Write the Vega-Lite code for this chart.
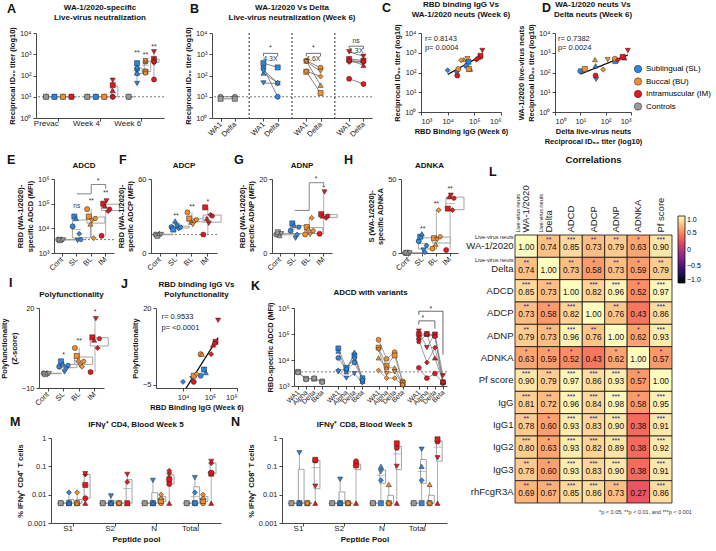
{
"$schema":"https://vega.github.io/schema/vega-lite/v6.json",
"background":"white",
"padding":{"left":0,"top":0,"right":0,"bottom":0},
"config":{"font":"Liberation Sans","view":{"stroke":null},
"axis":{"grid":false,"labelFontSize":7.5,"titleFontSize":7.5,"titleFontWeight":"bold","domainColor":"#333","tickColor":"#333","labelColor":"#222","titleColor":"#111","tickSize":3,"labelPadding":2,"titlePadding":3,"domainWidth":0.9,"tickWidth":0.9},
"title":{"fontSize":8,"fontWeight":"bold","color":"#111","offset":5,"lineHeight":10}},
"resolve":{"scale":{"color":"independent","xOffset":"independent"}},
"spacing":8,
"vconcat":[
{"bounds":"flush","spacing":0,"resolve":{"scale":{"xOffset":"independent"}},"hconcat":[
 {"width":32,"height":1,"title":{"text":"A","anchor":"start","frame":"group","fontSize":12.5,"fontWeight":"bold","offset":18,"dx":3},"data":{"values":[]},"mark":{"type":"point","opacity":0},"encoding":{}},
 {"width":128,"height":85,"title":{"text":["WA-1/2020-specific","Live-virus neutralization"]},
  "data":{"values":[
   {"t":"Prevac","g":"Cont","a":"a1","v":10},{"t":"Prevac","g":"Cont","a":"a2","v":10},{"t":"Prevac","g":"SL","a":"a1","v":10},{"t":"Prevac","g":"SL","a":"a2","v":10},{"t":"Prevac","g":"BL","a":"a1","v":10},{"t":"Prevac","g":"BL","a":"a2","v":10},{"t":"Prevac","g":"IM","a":"a1","v":10},{"t":"Prevac","g":"IM","a":"a2","v":10},
   {"t":"Week 4","g":"Cont","a":"a1","v":10},{"t":"Week 4","g":"Cont","a":"a2","v":10},{"t":"Week 4","g":"SL","a":"a1","v":10},{"t":"Week 4","g":"SL","a":"a2","v":10},{"t":"Week 4","g":"BL","a":"a1","v":10},{"t":"Week 4","g":"BL","a":"a2","v":10},
   {"t":"Week 4","g":"IM","a":"a1","v":10},{"t":"Week 4","g":"IM","a":"a2","v":35},{"t":"Week 4","g":"IM","a":"a3","v":20},{"t":"Week 4","g":"IM","a":"a4","v":60},{"t":"Week 4","g":"IM","a":"a5","v":10},{"t":"Week 4","g":"IM","a":"a6","v":10},
   {"t":"Week 6","g":"Cont","a":"a1","v":10},{"t":"Week 6","g":"Cont","a":"a2","v":10},
   {"t":"Week 6","g":"SL","a":"a1","v":200},{"t":"Week 6","g":"SL","a":"a2","v":380},{"t":"Week 6","g":"SL","a":"a3","v":130},{"t":"Week 6","g":"SL","a":"a4","v":42},{"t":"Week 6","g":"SL","a":"a5","v":120},{"t":"Week 6","g":"SL","a":"a6","v":230},
   {"t":"Week 6","g":"BL","a":"a1","v":450},{"t":"Week 6","g":"BL","a":"a2","v":150},{"t":"Week 6","g":"BL","a":"a3","v":480},{"t":"Week 6","g":"BL","a":"a4","v":500},{"t":"Week 6","g":"BL","a":"a5","v":160},{"t":"Week 6","g":"BL","a":"a6","v":130},
   {"t":"Week 6","g":"IM","a":"a1","v":65},{"t":"Week 6","g":"IM","a":"a2","v":600},{"t":"Week 6","g":"IM","a":"a3","v":550},{"t":"Week 6","g":"IM","a":"a4","v":1300},{"t":"Week 6","g":"IM","a":"a5","v":400},{"t":"Week 6","g":"IM","a":"a6","v":450}]},
  "layer":[
   {"data":{"values":[{"ref":10}]},"mark":{"type":"rule","strokeDash":[2,2],"color":"#444","strokeWidth":0.7},"encoding":{"y":{"field":"ref","type":"quantitative"}}},
   {"transform":[{"aggregate":[{"op":"q1","field":"v","as":"q1"},{"op":"q3","field":"v","as":"q3"},{"op":"median","field":"v","as":"md"},{"op":"min","field":"v","as":"lo"},{"op":"max","field":"v","as":"hi"}],"groupby":["t","g"]}],
    "encoding":{"x":{"field":"t","type":"nominal"},"xOffset":{"field":"g","type":"nominal"}},
    "layer":[
     {"mark":{"type":"rule","color":"#999","strokeWidth":0.8},"encoding":{"y":{"field":"lo","type":"quantitative"},"y2":{"field":"hi"}}},
     {"mark":{"type":"bar","fill":"white","stroke":"#999","strokeWidth":0.9,"width":{"band":0.85}},"encoding":{"y":{"field":"q1","type":"quantitative"},"y2":{"field":"q3"}}},
     {"mark":{"type":"tick","color":"#999","thickness":0.9,"size":7},"encoding":{"y":{"field":"md","type":"quantitative"}}}]},
   {"mark":{"type":"point","filled":true,"size":26,"stroke":"#222","strokeWidth":0.5,"opacity":1},
    "encoding":{"x":{"field":"t","type":"nominal","scale":{"domain":["Prevac","Week 4","Week 6"],"paddingInner":0.2,"paddingOuter":0.15},"axis":{"title":null,"labelAngle":0,"labelFontSize":8}},
     "xOffset":{"field":"g","type":"nominal","scale":{"domain":["Cont","SL","BL","IM"],"paddingInner":0.1}},
     "y":{"field":"v","type":"quantitative","scale":{"type":"log","domain":[1,10000]},"axis":{"values":[1,10,100,1000,10000],"labelExpr":"'10' + ['⁰','¹','²','³','⁴','⁵','⁶'][round(log(datum.value)/LN10)]","title":"Reciprocal ID₅₀ titer (log10)"}},
     "color":{"field":"g","type":"nominal","scale":{"domain":["SL","BL","IM","Cont"],"range":["#2C86E3","#F28E2B","#E8151B","#9A9A9A"]},"legend":{"orient":"none","legendX":630,"legendY":32,"title":null,"symbolType":"circle","symbolSize":55,"symbolStrokeColor":"#222","symbolStrokeWidth":0.5,"labelFontSize":8,"rowPadding":2.5,"labelExpr":"datum.label=='SL'?'Sublingual (SL)':datum.label=='BL'?'Buccal (BU)':datum.label=='IM'?'Intramuscular (IM)':'Controls'"}},
     "shape":{"field":"a","type":"nominal","scale":{"domain":["a1","a2","a3","a4","a5","a6"],"range":["circle","square","triangle-up","triangle-down","diamond","M-0.9,0L-0.45,-0.8L0.45,-0.8L0.9,0L0.45,0.8L-0.45,0.8Z"]},"legend":null}}},
   {"data":{"values":[{"t":"Week 6","g":"SL","s":"**","y":1200},{"t":"Week 6","g":"BL","s":"**","y":950},{"t":"Week 6","g":"IM","s":"**","y":2300}]},"mark":{"type":"text","fontSize":7,"color":"#333"},"encoding":{"x":{"field":"t","type":"nominal"},"xOffset":{"field":"g","type":"nominal"},"y":{"field":"y","type":"quantitative"},"text":{"field":"s"}}}
  ]},
 {"width":48,"height":1,"title":{"text":"B","anchor":"start","frame":"group","fontSize":12.5,"fontWeight":"bold","offset":18,"dx":26},"data":{"values":[]},"mark":{"type":"point","opacity":0},"encoding":{}},
 {"width":160,"height":85,"title":{"text":["WA-1/2020 Vs Delta","Live-virus neutralization (Week 6)"]},
  "data":{"values":[
   {"k":"Cont|WA1","g":"Cont","a":"a1","v":10},{"k":"Cont|Delta","g":"Cont","a":"a1","v":10},{"k":"Cont|WA1","g":"Cont","a":"a2","v":8},{"k":"Cont|Delta","g":"Cont","a":"a2","v":8},
   {"k":"SL|WA1","g":"SL","a":"a1","v":230},{"k":"SL|Delta","g":"SL","a":"a1","v":10},{"k":"SL|WA1","g":"SL","a":"a2","v":380},{"k":"SL|Delta","g":"SL","a":"a2","v":240},{"k":"SL|WA1","g":"SL","a":"a3","v":130},{"k":"SL|Delta","g":"SL","a":"a3","v":45},{"k":"SL|WA1","g":"SL","a":"a4","v":45},{"k":"SL|Delta","g":"SL","a":"a4","v":42},{"k":"SL|WA1","g":"SL","a":"a5","v":180},{"k":"SL|Delta","g":"SL","a":"a5","v":45},
   {"k":"BL|WA1","g":"BL","a":"a1","v":500},{"k":"BL|Delta","g":"BL","a":"a1","v":230},{"k":"BL|WA1","g":"BL","a":"a2","v":150},{"k":"BL|Delta","g":"BL","a":"a2","v":15},{"k":"BL|WA1","g":"BL","a":"a3","v":480},{"k":"BL|Delta","g":"BL","a":"a3","v":35},{"k":"BL|WA1","g":"BL","a":"a4","v":450},{"k":"BL|Delta","g":"BL","a":"a4","v":160},{"k":"BL|WA1","g":"BL","a":"a5","v":160},{"k":"BL|Delta","g":"BL","a":"a5","v":90},
   {"k":"IM|WA1","g":"IM","a":"a1","v":70},{"k":"IM|Delta","g":"IM","a":"a1","v":40},{"k":"IM|WA1","g":"IM","a":"a2","v":600},{"k":"IM|Delta","g":"IM","a":"a2","v":500},{"k":"IM|WA1","g":"IM","a":"a3","v":550},{"k":"IM|Delta","g":"IM","a":"a3","v":300},{"k":"IM|WA1","g":"IM","a":"a4","v":1300},{"k":"IM|Delta","g":"IM","a":"a4","v":800},{"k":"IM|WA1","g":"IM","a":"a5","v":430},{"k":"IM|Delta","g":"IM","a":"a5","v":430},{"k":"IM|WA1","g":"IM","a":"a6","v":500},{"k":"IM|Delta","g":"IM","a":"a6","v":450}]},
  "layer":[
   {"data":{"values":[{"ref":10}]},"mark":{"type":"rule","strokeDash":[2,2],"color":"#444","strokeWidth":0.7},"encoding":{"y":{"field":"ref","type":"quantitative"}}},
   {"data":{"values":[{"k":"s1"},{"k":"s2"},{"k":"s3"}]},"mark":{"type":"rule","strokeDash":[2,2],"color":"#111","strokeWidth":0.9},"encoding":{"x":{"field":"k","type":"nominal"}}},
   {"mark":{"type":"line","color":"#666","strokeWidth":0.8},"encoding":{"x":{"field":"k","type":"nominal"},"y":{"field":"v","type":"quantitative"},"detail":[{"field":"g"},{"field":"a"}]}},
   {"mark":{"type":"point","filled":true,"size":26,"stroke":"#222","strokeWidth":0.5,"opacity":1},
    "encoding":{"x":{"field":"k","type":"nominal","scale":{"type":"point","domain":["Cont|WA1","Cont|Delta","s1","SL|WA1","SL|Delta","s2","BL|WA1","BL|Delta","s3","IM|WA1","IM|Delta"],"padding":0.6},"axis":{"values":["Cont|WA1","Cont|Delta","SL|WA1","SL|Delta","BL|WA1","BL|Delta","IM|WA1","IM|Delta"],"labelExpr":"split(datum.value,'|')[1]","labelAngle":-45,"title":null}},
     "y":{"field":"v","type":"quantitative","scale":{"type":"log","domain":[1,10000]},"axis":{"values":[1,10,100,1000,10000],"labelExpr":"'10' + ['⁰','¹','²','³','⁴','⁵','⁶'][round(log(datum.value)/LN10)]","title":"Reciprocal ID₅₀ titer (log10)"}},
     "color":{"field":"g","type":"nominal","scale":{"domain":["SL","BL","IM","Cont"],"range":["#2C86E3","#F28E2B","#E8151B","#9A9A9A"]},"legend":{"orient":"none","legendX":630,"legendY":32,"title":null,"symbolType":"circle","symbolSize":55,"symbolStrokeColor":"#222","symbolStrokeWidth":0.5,"labelFontSize":8,"rowPadding":2.5,"labelExpr":"datum.label=='SL'?'Sublingual (SL)':datum.label=='BL'?'Buccal (BU)':datum.label=='IM'?'Intramuscular (IM)':'Controls'"}},
     "shape":{"field":"a","type":"nominal","scale":{"domain":["a1","a2","a3","a4","a5","a6"],"range":["circle","square","triangle-up","triangle-down","diamond","M-0.9,0L-0.45,-0.8L0.45,-0.8L0.9,0L0.45,0.8L-0.45,0.8Z"]},"legend":null}}},
   {"data":{"values":[{"x1":"SL|WA1","x2":"SL|Delta","y":1100},{"x1":"BL|WA1","x2":"BL|Delta","y":1100},{"x1":"IM|WA1","x2":"IM|Delta","y":2400}]},"mark":{"type":"rule","color":"#333","strokeWidth":0.7},"encoding":{"x":{"field":"x1","type":"nominal"},"x2":{"field":"x2"},"y":{"field":"y","type":"quantitative"}}},
   {"data":{"values":[{"x":"SL|WA1","y1":1100,"y2":800},{"x":"SL|Delta","y1":1100,"y2":800},{"x":"BL|WA1","y1":1100,"y2":800},{"x":"BL|Delta","y1":1100,"y2":800},{"x":"IM|WA1","y1":2400,"y2":1800},{"x":"IM|Delta","y1":2400,"y2":1800}]},"mark":{"type":"rule","color":"#333","strokeWidth":0.7},"encoding":{"x":{"field":"x","type":"nominal"},"y":{"field":"y1","type":"quantitative"},"y2":{"field":"y2"}}},
   {"data":{"values":[{"x":"SL|WA1","y":1900,"s":"*"},{"x":"SL|WA1","y":600,"s":"4.3X"},{"x":"BL|WA1","y":1900,"s":"*"},{"x":"BL|WA1","y":600,"s":"4.6X"},{"x":"IM|WA1","y":4000,"s":"ns"},{"x":"IM|WA1","y":1350,"s":"1.3X"}]},"mark":{"type":"text","fontSize":7,"color":"#333","dx":7},"encoding":{"x":{"field":"x","type":"nominal"},"y":{"field":"y","type":"quantitative"},"text":{"field":"s"}}}
  ]},
 {"width":49,"height":1,"title":{"text":"C","anchor":"start","frame":"group","fontSize":12.5,"fontWeight":"bold","offset":19,"dx":10},"data":{"values":[]},"mark":{"type":"point","opacity":0},"encoding":{}},
 {"width":80,"height":79,"title":{"text":["RBD binding IgG Vs","WA-1/2020 neuts (Week 6)"]},
  "data":{"values":[
   {"g":"SL","a":"a5","x":10000,"y":130},{"g":"SL","a":"a4","x":22000,"y":90},{"g":"SL","a":"a2","x":60000,"y":350},{"g":"SL","a":"a3","x":70000,"y":150},{"g":"SL","a":"a1","x":50000,"y":220},
   {"g":"BL","a":"a1","x":25000,"y":150},{"g":"BL","a":"a2","x":62000,"y":150},{"g":"BL","a":"a3","x":40000,"y":450},{"g":"BL","a":"a4","x":55000,"y":500},{"g":"BL","a":"a5","x":32000,"y":420},
   {"g":"IM","a":"a1","x":23000,"y":70},{"g":"IM","a":"a2","x":170000,"y":700},{"g":"IM","a":"a3","x":150000,"y":600},{"g":"IM","a":"a4","x":200000,"y":1300},{"g":"IM","a":"a5","x":120000,"y":450},{"g":"IM","a":"a6","x":130000,"y":500}]},
  "layer":[
   {"transform":[{"regression":"y","on":"x","method":"pow"}],"mark":{"type":"line","color":"#111","strokeWidth":1.3},"encoding":{"x":{"field":"x","type":"quantitative"},"y":{"field":"y","type":"quantitative"}}},
   {"mark":{"type":"point","filled":true,"size":26,"stroke":"#222","strokeWidth":0.5,"opacity":1},
    "encoding":{"x":{"field":"x","type":"quantitative","scale":{"type":"log","domain":[1000,1000000]},"axis":{"values":[1000,10000,100000,1000000],"labelExpr":"'10' + ['⁰','¹','²','³','⁴','⁵','⁶'][round(log(datum.value)/LN10)]","title":"RBD Binding IgG (Week 6)"}},
     "y":{"field":"y","type":"quantitative","scale":{"type":"log","domain":[1,10000]},"axis":{"values":[1,10,100,1000,10000],"labelExpr":"'10' + ['⁰','¹','²','³','⁴','⁵','⁶'][round(log(datum.value)/LN10)]","title":"Reciprocal ID₅₀ titer (log10)"}},
     "color":{"field":"g","type":"nominal","scale":{"domain":["SL","BL","IM","Cont"],"range":["#2C86E3","#F28E2B","#E8151B","#9A9A9A"]},"legend":{"orient":"none","legendX":630,"legendY":32,"title":null,"symbolType":"circle","symbolSize":55,"symbolStrokeColor":"#222","symbolStrokeWidth":0.5,"labelFontSize":8,"rowPadding":2.5,"labelExpr":"datum.label=='SL'?'Sublingual (SL)':datum.label=='BL'?'Buccal (BU)':datum.label=='IM'?'Intramuscular (IM)':'Controls'"}},
     "shape":{"field":"a","type":"nominal","scale":{"domain":["a1","a2","a3","a4","a5","a6"],"range":["circle","square","triangle-up","triangle-down","diamond","M-0.9,0L-0.45,-0.8L0.45,-0.8L0.9,0L0.45,0.8L-0.45,0.8Z"]},"legend":null}}},
   {"data":{"values":[{"x":1400,"y":5000,"s":"r=  0.8143"},{"x":1400,"y":1800,"s":"p= 0.0004"}]},"mark":{"type":"text","align":"left","fontSize":7.5,"color":"#222"},"encoding":{"x":{"field":"x","type":"quantitative"},"y":{"field":"y","type":"quantitative"},"text":{"field":"s"}}}
  ]},
 {"width":54,"height":1,"title":{"text":"D","anchor":"start","frame":"group","fontSize":12.5,"fontWeight":"bold","offset":19,"dx":41},"data":{"values":[]},"mark":{"type":"point","opacity":0},"encoding":{}},
 {"width":76,"height":79,"title":{"text":["WA-1/2020 neuts Vs","Delta neuts (Week 6)"]},
  "data":{"values":[
   {"g":"SL","a":"a1","x":10,"y":120},{"g":"SL","a":"a2","x":240,"y":380},{"g":"SL","a":"a3","x":40,"y":220},{"g":"SL","a":"a4","x":42,"y":45},
   {"g":"BL","a":"a2","x":15,"y":150},{"g":"BL","a":"a3","x":38,"y":450},{"g":"BL","a":"a4","x":120,"y":450},{"g":"BL","a":"a5","x":80,"y":140},{"g":"BL","a":"a1","x":230,"y":500},
   {"g":"IM","a":"a1","x":40,"y":70},{"g":"IM","a":"a5","x":300,"y":430},{"g":"IM","a":"a6","x":480,"y":600},{"g":"IM","a":"a3","x":550,"y":550},{"g":"IM","a":"a4","x":750,"y":1300},{"g":"IM","a":"a2","x":470,"y":620}]},
  "layer":[
   {"transform":[{"regression":"y","on":"x","method":"pow"}],"mark":{"type":"line","color":"#111","strokeWidth":1.3},"encoding":{"x":{"field":"x","type":"quantitative"},"y":{"field":"y","type":"quantitative"}}},
   {"mark":{"type":"point","filled":true,"size":26,"stroke":"#222","strokeWidth":0.5,"opacity":1},
    "encoding":{"x":{"field":"x","type":"quantitative","scale":{"type":"log","domain":[1,1000]},"axis":{"values":[1,10,100,1000],"labelExpr":"'10' + ['⁰','¹','²','³','⁴','⁵','⁶'][round(log(datum.value)/LN10)]","title":["Delta live-virus neuts","Reciprocal ID₅₀ titer (log10)"]}},
     "y":{"field":"y","type":"quantitative","scale":{"type":"log","domain":[1,10000]},"axis":{"values":[1,10,100,1000,10000],"labelExpr":"'10' + ['⁰','¹','²','³','⁴','⁵','⁶'][round(log(datum.value)/LN10)]","title":["WA-1/2020 live-virus neuts","Reciprocal ID₅₀ titer (log10)"]}},
     "color":{"field":"g","type":"nominal","scale":{"domain":["SL","BL","IM","Cont"],"range":["#2C86E3","#F28E2B","#E8151B","#9A9A9A"]},"legend":{"orient":"none","legendX":630,"legendY":32,"title":null,"symbolType":"circle","symbolSize":55,"symbolStrokeColor":"#222","symbolStrokeWidth":0.5,"labelFontSize":8,"rowPadding":2.5,"labelExpr":"datum.label=='SL'?'Sublingual (SL)':datum.label=='BL'?'Buccal (BU)':datum.label=='IM'?'Intramuscular (IM)':'Controls'"}},
     "shape":{"field":"a","type":"nominal","scale":{"domain":["a1","a2","a3","a4","a5","a6"],"range":["circle","square","triangle-up","triangle-down","diamond","M-0.9,0L-0.45,-0.8L0.45,-0.8L0.9,0L0.45,0.8L-0.45,0.8Z"]},"legend":null}}},
   {"data":{"values":[{"x":1.3,"y":5000,"s":"r=  0.7382"},{"x":1.3,"y":1800,"s":"p= 0.0024"}]},"mark":{"type":"text","align":"left","fontSize":7.5,"color":"#222"},"encoding":{"x":{"field":"x","type":"quantitative"},"y":{"field":"y","type":"quantitative"},"text":{"field":"s"}}}
  ]}
]},
{"spacing":0,"resolve":{"scale":{"color":"independent","xOffset":"independent"}},"hconcat":[
 {"spacing":4,"resolve":{"scale":{"xOffset":"independent"}},"vconcat":[
  {"bounds":"flush","spacing":0,"resolve":{"scale":{"xOffset":"independent"}},"hconcat":[
   {"width":50,"height":1,"title":{"text":"E","anchor":"start","frame":"group","fontSize":12.5,"fontWeight":"bold","offset":13,"dx":3},"data":{"values":[]},"mark":{"type":"point","opacity":0},"encoding":{}},
   {"width":60,"height":74,"title":"ADCD",
    "data":{"values":[{"g":"Cont","a":"a1","v":3500},{"g":"Cont","a":"a2","v":3300},{"g":"Cont","a":"a3","v":3700},{"g":"Cont","a":"a4","v":3400},
     {"g":"SL","a":"a1","v":12000},{"g":"SL","a":"a2","v":30000},{"g":"SL","a":"a3","v":25000},{"g":"SL","a":"a4","v":3200},{"g":"SL","a":"a5","v":6000},{"g":"SL","a":"a6","v":3500},
     {"g":"BL","a":"a1","v":60000},{"g":"BL","a":"a2","v":30000},{"g":"BL","a":"a3","v":15000},{"g":"BL","a":"a4","v":20000},{"g":"BL","a":"a5","v":4000},{"g":"BL","a":"a6","v":25000},
     {"g":"IM","a":"a1","v":5000},{"g":"IM","a":"a2","v":100000},{"g":"IM","a":"a3","v":80000},{"g":"IM","a":"a4","v":130000},{"g":"IM","a":"a5","v":50000},{"g":"IM","a":"a6","v":60000}]},
    "layer":[
     {"data":{"values":[{"ref":3500}]},"mark":{"type":"rule","strokeDash":[2,2],"color":"#444","strokeWidth":0.7},"encoding":{"y":{"field":"ref","type":"quantitative"}}},
     {"transform":[{"aggregate":[{"op":"q1","field":"v","as":"q1"},{"op":"q3","field":"v","as":"q3"},{"op":"median","field":"v","as":"md"},{"op":"min","field":"v","as":"lo"},{"op":"max","field":"v","as":"hi"}],"groupby":["g"]}],
      "encoding":{"x":{"field":"g","type":"nominal"}},
      "layer":[
       {"mark":{"type":"rule","color":"#999","strokeWidth":0.8},"encoding":{"y":{"field":"lo","type":"quantitative"},"y2":{"field":"hi"}}},
       {"mark":{"type":"bar","fill":"white","stroke":"#999","strokeWidth":0.9,"width":{"band":0.8}},"encoding":{"y":{"field":"q1","type":"quantitative"},"y2":{"field":"q3"}}},
       {"mark":{"type":"tick","color":"#999","thickness":0.9,"size":9},"encoding":{"y":{"field":"md","type":"quantitative"}}}]},
     {"mark":{"type":"point","filled":true,"size":26,"stroke":"#222","strokeWidth":0.5,"opacity":1},
      "encoding":{"x":{"field":"g","type":"nominal","scale":{"domain":["Cont","SL","BL","IM"],"paddingInner":0.25,"paddingOuter":0.2},"axis":{"title":null,"labelAngle":-45,"labelFontSize":7.5}},
       "xOffset":{"field":"a","type":"nominal","scale":{"domain":["a1","a2","a3","a4","a5","a6"],"paddingOuter":0.8}},
       "y":{"field":"v","type":"quantitative","scale":{"type":"log","domain":[1000,1000000]},"axis":{"values":[1000,10000,100000,1000000],"labelExpr":"'10' + ['⁰','¹','²','³','⁴','⁵','⁶'][round(log(datum.value)/LN10)]","title":["RBD (WA-1/2020)-","specific ADCD (MFI)"]}},
       "color":{"field":"g","type":"nominal","scale":{"domain":["SL","BL","IM","Cont"],"range":["#2C86E3","#F28E2B","#E8151B","#9A9A9A"]},"legend":null},
       "shape":{"field":"a","type":"nominal","scale":{"domain":["a1","a2","a3","a4","a5","a6"],"range":["circle","square","triangle-up","triangle-down","diamond","M-0.9,0L-0.45,-0.8L0.45,-0.8L0.9,0L0.45,0.8L-0.45,0.8Z"]},"legend":null}}},
     {"data":{"values":[{"g":"SL","y":80000,"s":"ns"},{"g":"BL","y":130000,"s":"**"},{"g":"IM","y":280000,"s":"**"}]},"mark":{"type":"text","fontSize":6.5,"color":"#333"},"encoding":{"x":{"field":"g","type":"nominal"},"y":{"field":"y","type":"quantitative"},"text":{"field":"s"}}},
     {"data":{"values":[{"x1":"SL","x2":"BL","y":250000},{"x1":"BL","x2":"IM","y":600000}]},"mark":{"type":"rule","color":"#666","strokeWidth":0.8},"encoding":{"x":{"field":"x1","type":"nominal"},"x2":{"field":"x2"},"y":{"field":"y","type":"quantitative"}}},
     {"data":{"values":[{"x":"BL","y1":600000,"y2":250000},{"x":"IM","y1":600000,"y2":400000}]},"mark":{"type":"rule","color":"#666","strokeWidth":0.8},"encoding":{"x":{"field":"x","type":"nominal"},"y":{"field":"y1","type":"quantitative"},"y2":{"field":"y2"}}},
     {"data":{"values":[{"x":"BL","y":800000,"s":"*"}]},"mark":{"type":"text","fontSize":7,"color":"#333","dx":7},"encoding":{"x":{"field":"x","type":"nominal"},"y":{"field":"y","type":"quantitative"},"text":{"field":"s"}}}
    ]},
   {"width":37,"height":1,"title":{"text":"F","anchor":"start","frame":"group","fontSize":12.5,"fontWeight":"bold","offset":13,"dx":5},"data":{"values":[]},"mark":{"type":"point","opacity":0},"encoding":{}},
   {"width":66,"height":74,"title":"ADCP",
    "data":{"values":[{"g":"Cont","a":"a1","v":15},{"g":"Cont","a":"a2","v":14},{"g":"Cont","a":"a3","v":16},{"g":"Cont","a":"a4","v":15},
     {"g":"SL","a":"a1","v":21},{"g":"SL","a":"a2","v":19},{"g":"SL","a":"a3","v":26},{"g":"SL","a":"a4","v":22},{"g":"SL","a":"a5","v":20},{"g":"SL","a":"a6","v":21},
     {"g":"BL","a":"a1","v":33},{"g":"BL","a":"a2","v":28},{"g":"BL","a":"a3","v":25},{"g":"BL","a":"a4","v":23},{"g":"BL","a":"a5","v":26},{"g":"BL","a":"a6","v":27},
     {"g":"IM","a":"a1","v":15},{"g":"IM","a":"a2","v":37},{"g":"IM","a":"a3","v":28},{"g":"IM","a":"a4","v":24},{"g":"IM","a":"a5","v":31},{"g":"IM","a":"a6","v":30}]},
    "layer":[
     {"data":{"values":[{"ref":15}]},"mark":{"type":"rule","strokeDash":[2,2],"color":"#444","strokeWidth":0.7},"encoding":{"y":{"field":"ref","type":"quantitative"}}},
     {"transform":[{"aggregate":[{"op":"q1","field":"v","as":"q1"},{"op":"q3","field":"v","as":"q3"},{"op":"median","field":"v","as":"md"},{"op":"min","field":"v","as":"lo"},{"op":"max","field":"v","as":"hi"}],"groupby":["g"]}],
      "encoding":{"x":{"field":"g","type":"nominal"}},
      "layer":[
       {"mark":{"type":"rule","color":"#999","strokeWidth":0.8},"encoding":{"y":{"field":"lo","type":"quantitative"},"y2":{"field":"hi"}}},
       {"mark":{"type":"bar","fill":"white","stroke":"#999","strokeWidth":0.9,"width":{"band":0.8}},"encoding":{"y":{"field":"q1","type":"quantitative"},"y2":{"field":"q3"}}},
       {"mark":{"type":"tick","color":"#999","thickness":0.9,"size":10},"encoding":{"y":{"field":"md","type":"quantitative"}}}]},
     {"mark":{"type":"point","filled":true,"size":26,"stroke":"#222","strokeWidth":0.5,"opacity":1},
      "encoding":{"x":{"field":"g","type":"nominal","scale":{"domain":["Cont","SL","BL","IM"],"paddingInner":0.25,"paddingOuter":0.2},"axis":{"title":null,"labelAngle":-45,"labelFontSize":7.5}},
       "xOffset":{"field":"a","type":"nominal","scale":{"domain":["a1","a2","a3","a4","a5","a6"],"paddingOuter":0.8}},
       "y":{"field":"v","type":"quantitative","scale":{"domain":[0,60]},"axis":{"values":[0,20,40,60],"title":["RBD (WA-1/2020)-","specific ADCP (MFI)"]}},
       "color":{"field":"g","type":"nominal","scale":{"domain":["SL","BL","IM","Cont"],"range":["#2C86E3","#F28E2B","#E8151B","#9A9A9A"]},"legend":null},
       "shape":{"field":"a","type":"nominal","scale":{"domain":["a1","a2","a3","a4","a5","a6"],"range":["circle","square","triangle-up","triangle-down","diamond","M-0.9,0L-0.45,-0.8L0.45,-0.8L0.9,0L0.45,0.8L-0.45,0.8Z"]},"legend":null}}},
     {"data":{"values":[{"g":"SL","y":30,"s":"**"},{"g":"BL","y":37,"s":"**"},{"g":"IM","y":41,"s":"*"}]},"mark":{"type":"text","fontSize":7,"color":"#333"},"encoding":{"x":{"field":"g","type":"nominal"},"y":{"field":"y","type":"quantitative"},"text":{"field":"s"}}}
    ]},
   {"width":55,"height":1,"title":{"text":"G","anchor":"start","frame":"group","fontSize":12.5,"fontWeight":"bold","offset":13,"dx":17},"data":{"values":[]},"mark":{"type":"point","opacity":0},"encoding":{}},
   {"width":60,"height":74,"title":"ADNP",
    "data":{"values":[{"g":"Cont","a":"a1","v":5},{"g":"Cont","a":"a2","v":5.6},{"g":"Cont","a":"a3","v":4.7},{"g":"Cont","a":"a4","v":5.2},
     {"g":"SL","a":"a1","v":6},{"g":"SL","a":"a2","v":8},{"g":"SL","a":"a3","v":7.5},{"g":"SL","a":"a4","v":4},{"g":"SL","a":"a5","v":5},{"g":"SL","a":"a6","v":7},
     {"g":"BL","a":"a1","v":5},{"g":"BL","a":"a2","v":7},{"g":"BL","a":"a3","v":6.5},{"g":"BL","a":"a4","v":5},{"g":"BL","a":"a5","v":9.5},{"g":"BL","a":"a6","v":6},
     {"g":"IM","a":"a1","v":5.2},{"g":"IM","a":"a2","v":10.5},{"g":"IM","a":"a3","v":10},{"g":"IM","a":"a4","v":16.5},{"g":"IM","a":"a5","v":9.5},{"g":"IM","a":"a6","v":10}]},
    "layer":[
     {"transform":[{"aggregate":[{"op":"q1","field":"v","as":"q1"},{"op":"q3","field":"v","as":"q3"},{"op":"median","field":"v","as":"md"},{"op":"min","field":"v","as":"lo"},{"op":"max","field":"v","as":"hi"}],"groupby":["g"]}],
      "encoding":{"x":{"field":"g","type":"nominal"}},
      "layer":[
       {"mark":{"type":"rule","color":"#999","strokeWidth":0.8},"encoding":{"y":{"field":"lo","type":"quantitative"},"y2":{"field":"hi"}}},
       {"mark":{"type":"bar","fill":"white","stroke":"#999","strokeWidth":0.9,"width":{"band":0.8}},"encoding":{"y":{"field":"q1","type":"quantitative"},"y2":{"field":"q3"}}},
       {"mark":{"type":"tick","color":"#999","thickness":0.9,"size":9},"encoding":{"y":{"field":"md","type":"quantitative"}}}]},
     {"mark":{"type":"point","filled":true,"size":26,"stroke":"#222","strokeWidth":0.5,"opacity":1},
      "encoding":{"x":{"field":"g","type":"nominal","scale":{"domain":["Cont","SL","BL","IM"],"paddingInner":0.25,"paddingOuter":0.2},"axis":{"title":null,"labelAngle":-45,"labelFontSize":7.5}},
       "xOffset":{"field":"a","type":"nominal","scale":{"domain":["a1","a2","a3","a4","a5","a6"],"paddingOuter":0.8}},
       "y":{"field":"v","type":"quantitative","scale":{"domain":[0,20]},"axis":{"values":[0,5,10,15,20],"title":["RBD (WA-1/2020)-","specific ADNP (MFI)"]}},
       "color":{"field":"g","type":"nominal","scale":{"domain":["SL","BL","IM","Cont"],"range":["#2C86E3","#F28E2B","#E8151B","#9A9A9A"]},"legend":null},
       "shape":{"field":"a","type":"nominal","scale":{"domain":["a1","a2","a3","a4","a5","a6"],"range":["circle","square","triangle-up","triangle-down","diamond","M-0.9,0L-0.45,-0.8L0.45,-0.8L0.9,0L0.45,0.8L-0.45,0.8Z"]},"legend":null}}},
     {"data":{"values":[{"g":"IM","y":17.6,"s":"*"}]},"mark":{"type":"text","fontSize":7,"color":"#333"},"encoding":{"x":{"field":"g","type":"nominal"},"y":{"field":"y","type":"quantitative"},"text":{"field":"s"}}},
     {"data":{"values":[{"x1":"SL","x2":"BL","y":11.5},{"x1":"BL","x2":"IM","y":19}]},"mark":{"type":"rule","color":"#666","strokeWidth":0.8},"encoding":{"x":{"field":"x1","type":"nominal"},"x2":{"field":"x2"},"y":{"field":"y","type":"quantitative"}}},
     {"data":{"values":[{"x":"BL","y1":19,"y2":11.5},{"x":"IM","y1":19,"y2":18.3}]},"mark":{"type":"rule","color":"#666","strokeWidth":0.8},"encoding":{"x":{"field":"x","type":"nominal"},"y":{"field":"y1","type":"quantitative"},"y2":{"field":"y2"}}},
     {"data":{"values":[{"x":"BL","y":20,"s":"*"}]},"mark":{"type":"text","fontSize":7,"color":"#333","dx":7},"encoding":{"x":{"field":"x","type":"nominal"},"y":{"field":"y","type":"quantitative"},"text":{"field":"s"}}}
    ]},
   {"width":69,"height":1,"title":{"text":"H","anchor":"start","frame":"group","fontSize":12.5,"fontWeight":"bold","offset":13,"dx":12},"data":{"values":[]},"mark":{"type":"point","opacity":0},"encoding":{}},
   {"width":57,"height":74,"title":"ADNKA",
    "data":{"values":[{"g":"Cont","a":"a1","v":0},{"g":"Cont","a":"a2","v":0.2},{"g":"Cont","a":"a3","v":0},{"g":"Cont","a":"a4","v":0.1},
     {"g":"SL","a":"a1","v":8},{"g":"SL","a":"a2","v":11},{"g":"SL","a":"a3","v":13},{"g":"SL","a":"a4","v":2},{"g":"SL","a":"a5","v":0.5},{"g":"SL","a":"a6","v":5},
     {"g":"BL","a":"a1","v":3},{"g":"BL","a":"a2","v":10},{"g":"BL","a":"a3","v":6},{"g":"BL","a":"a4","v":9},{"g":"BL","a":"a5","v":29},{"g":"BL","a":"a6","v":11},
     {"g":"IM","a":"a1","v":2},{"g":"IM","a":"a2","v":30},{"g":"IM","a":"a3","v":38},{"g":"IM","a":"a4","v":39},{"g":"IM","a":"a5","v":29},{"g":"IM","a":"a6","v":37}]},
    "layer":[
     {"transform":[{"aggregate":[{"op":"q1","field":"v","as":"q1"},{"op":"q3","field":"v","as":"q3"},{"op":"median","field":"v","as":"md"},{"op":"min","field":"v","as":"lo"},{"op":"max","field":"v","as":"hi"}],"groupby":["g"]}],
      "encoding":{"x":{"field":"g","type":"nominal"}},
      "layer":[
       {"mark":{"type":"rule","color":"#999","strokeWidth":0.8},"encoding":{"y":{"field":"lo","type":"quantitative"},"y2":{"field":"hi"}}},
       {"mark":{"type":"bar","fill":"white","stroke":"#999","strokeWidth":0.9,"width":{"band":0.8}},"encoding":{"y":{"field":"q1","type":"quantitative"},"y2":{"field":"q3"}}},
       {"mark":{"type":"tick","color":"#999","thickness":0.9,"size":9},"encoding":{"y":{"field":"md","type":"quantitative"}}}]},
     {"mark":{"type":"point","filled":true,"size":26,"stroke":"#222","strokeWidth":0.5,"opacity":1},
      "encoding":{"x":{"field":"g","type":"nominal","scale":{"domain":["Cont","SL","BL","IM"],"paddingInner":0.25,"paddingOuter":0.2},"axis":{"title":null,"labelAngle":-45,"labelFontSize":7.5}},
       "xOffset":{"field":"a","type":"nominal","scale":{"domain":["a1","a2","a3","a4","a5","a6"],"paddingOuter":0.8}},
       "y":{"field":"v","type":"quantitative","scale":{"domain":[0,50]},"axis":{"values":[0,10,20,30,40,50],"title":["S (WA-1/2020)-","specific ADNKA"]}},
       "color":{"field":"g","type":"nominal","scale":{"domain":["SL","BL","IM","Cont"],"range":["#2C86E3","#F28E2B","#E8151B","#9A9A9A"]},"legend":null},
       "shape":{"field":"a","type":"nominal","scale":{"domain":["a1","a2","a3","a4","a5","a6"],"range":["circle","square","triangle-up","triangle-down","diamond","M-0.9,0L-0.45,-0.8L0.45,-0.8L0.9,0L0.45,0.8L-0.45,0.8Z"]},"legend":null}}},
     {"data":{"values":[{"g":"SL","y":16,"s":"**"},{"g":"BL","y":33,"s":"**"},{"g":"IM","y":43,"s":"**"}]},"mark":{"type":"text","fontSize":7,"color":"#333"},"encoding":{"x":{"field":"g","type":"nominal"},"y":{"field":"y","type":"quantitative"},"text":{"field":"s"}}}
    ]}
  ]},
  {"bounds":"flush","spacing":0,"resolve":{"scale":{"xOffset":"independent"}},"hconcat":[
   {"width":35,"height":1,"title":{"text":"I","anchor":"start","frame":"group","fontSize":12.5,"fontWeight":"bold","offset":19,"dx":5},"data":{"values":[]},"mark":{"type":"point","opacity":0},"encoding":{}},
   {"width":65,"height":80,"title":"Polyfunctionality",
    "data":{"values":[{"g":"Cont","a":"a1","v":-4.5},{"g":"Cont","a":"a2","v":-4.8},{"g":"Cont","a":"a3","v":-4.3},{"g":"Cont","a":"a4","v":-4.6},
     {"g":"SL","a":"a1","v":-2},{"g":"SL","a":"a2","v":0},{"g":"SL","a":"a3","v":-1},{"g":"SL","a":"a4","v":-4},{"g":"SL","a":"a5","v":-2.5},{"g":"SL","a":"a6","v":-1.5},
     {"g":"BL","a":"a1","v":5},{"g":"BL","a":"a2","v":2},{"g":"BL","a":"a3","v":0.5},{"g":"BL","a":"a4","v":-1.5},{"g":"BL","a":"a5","v":-2},{"g":"BL","a":"a6","v":0},
     {"g":"IM","a":"a1","v":-4},{"g":"IM","a":"a2","v":9},{"g":"IM","a":"a3","v":8},{"g":"IM","a":"a4","v":16},{"g":"IM","a":"a5","v":5},{"g":"IM","a":"a6","v":8.5}]},
    "layer":[
     {"transform":[{"aggregate":[{"op":"q1","field":"v","as":"q1"},{"op":"q3","field":"v","as":"q3"},{"op":"median","field":"v","as":"md"},{"op":"min","field":"v","as":"lo"},{"op":"max","field":"v","as":"hi"}],"groupby":["g"]}],
      "encoding":{"x":{"field":"g","type":"nominal"}},
      "layer":[
       {"mark":{"type":"rule","color":"#999","strokeWidth":0.8},"encoding":{"y":{"field":"lo","type":"quantitative"},"y2":{"field":"hi"}}},
       {"mark":{"type":"bar","fill":"white","stroke":"#999","strokeWidth":0.9,"width":{"band":0.8}},"encoding":{"y":{"field":"q1","type":"quantitative"},"y2":{"field":"q3"}}},
       {"mark":{"type":"tick","color":"#999","thickness":0.9,"size":10},"encoding":{"y":{"field":"md","type":"quantitative"}}}]},
     {"mark":{"type":"point","filled":true,"size":26,"stroke":"#222","strokeWidth":0.5,"opacity":1},
      "encoding":{"x":{"field":"g","type":"nominal","scale":{"domain":["Cont","SL","BL","IM"],"paddingInner":0.25,"paddingOuter":0.2},"axis":{"title":null,"labelAngle":-45,"labelFontSize":7.5}},
       "xOffset":{"field":"a","type":"nominal","scale":{"domain":["a1","a2","a3","a4","a5","a6"],"paddingOuter":0.8}},
       "y":{"field":"v","type":"quantitative","scale":{"domain":[-10,20]},"axis":{"values":[-10,-5,0,5,10,15,20],"title":["Polyfunctionality","(Z-score)"]}},
       "color":{"field":"g","type":"nominal","scale":{"domain":["SL","BL","IM","Cont"],"range":["#2C86E3","#F28E2B","#E8151B","#9A9A9A"]},"legend":null},
       "shape":{"field":"a","type":"nominal","scale":{"domain":["a1","a2","a3","a4","a5","a6"],"range":["circle","square","triangle-up","triangle-down","diamond","M-0.9,0L-0.45,-0.8L0.45,-0.8L0.9,0L0.45,0.8L-0.45,0.8Z"]},"legend":null}}},
     {"data":{"values":[{"g":"SL","y":2.5,"s":"*"},{"g":"BL","y":7.5,"s":"**"},{"g":"IM","y":18.5,"s":"*"}]},"mark":{"type":"text","fontSize":7,"color":"#333"},"encoding":{"x":{"field":"g","type":"nominal"},"y":{"field":"y","type":"quantitative"},"text":{"field":"s"}}}
    ]},
   {"width":52,"height":1,"title":{"text":"J","anchor":"start","frame":"group","fontSize":12.5,"fontWeight":"bold","offset":18,"dx":17},"data":{"values":[]},"mark":{"type":"point","opacity":0},"encoding":{}},
   {"width":81,"height":80,"title":{"text":["RBD binding IgG Vs","Polyfunctionality"]},
    "data":{"values":[
     {"g":"SL","a":"a5","x":10000,"y":-4},{"g":"SL","a":"a4","x":22000,"y":-3},{"g":"SL","a":"a2","x":60000,"y":0},{"g":"SL","a":"a3","x":70000,"y":-1},{"g":"SL","a":"a1","x":45000,"y":-2},
     {"g":"BL","a":"a1","x":45000,"y":5},{"g":"BL","a":"a2","x":25000,"y":-2},{"g":"BL","a":"a3","x":50000,"y":5},{"g":"BL","a":"a5","x":32000,"y":-1.5},
     {"g":"IM","a":"a1","x":25000,"y":-4},{"g":"IM","a":"a2","x":160000,"y":9},{"g":"IM","a":"a3","x":130000,"y":8},{"g":"IM","a":"a4","x":200000,"y":16},{"g":"IM","a":"a5","x":110000,"y":5},{"g":"IM","a":"a6","x":150000,"y":8.5}]},
    "layer":[
     {"transform":[{"regression":"y","on":"x","method":"log"}],"mark":{"type":"line","color":"#111","strokeWidth":1.3,"clip":true},"encoding":{"x":{"field":"x","type":"quantitative"},"y":{"field":"y","type":"quantitative"}}},
     {"mark":{"type":"point","filled":true,"size":26,"stroke":"#222","strokeWidth":0.5,"opacity":1},
      "encoding":{"x":{"field":"x","type":"quantitative","scale":{"type":"log","domain":[1000,1000000]},"axis":{"values":[10000,100000,1000000],"labelExpr":"'10' + ['⁰','¹','²','³','⁴','⁵','⁶'][round(log(datum.value)/LN10)]","title":"RBD Binding IgG (Week 6)"}},
       "y":{"field":"y","type":"quantitative","scale":{"domain":[-5,20]},"axis":{"values":[-5,0,5,10,15,20],"title":"Polyfunctionality"}},
       "color":{"field":"g","type":"nominal","scale":{"domain":["SL","BL","IM","Cont"],"range":["#2C86E3","#F28E2B","#E8151B","#9A9A9A"]},"legend":null},
       "shape":{"field":"a","type":"nominal","scale":{"domain":["a1","a2","a3","a4","a5","a6"],"range":["circle","square","triangle-up","triangle-down","diamond","M-0.9,0L-0.45,-0.8L0.45,-0.8L0.9,0L0.45,0.8L-0.45,0.8Z"]},"legend":null}}},
     {"data":{"values":[{"x":1600,"y":17,"s":"r=  0.9533"},{"x":1600,"y":13.5,"s":"p= <0.0001"}]},"mark":{"type":"text","align":"left","fontSize":7.5,"color":"#222"},"encoding":{"x":{"field":"x","type":"quantitative"},"y":{"field":"y","type":"quantitative"},"text":{"field":"s"}}}
    ]},
   {"width":57,"height":1,"title":{"text":"K","anchor":"start","frame":"group","fontSize":12.5,"fontWeight":"bold","offset":16,"dx":14},"data":{"values":[]},"mark":{"type":"point","opacity":0},"encoding":{}},
   {"width":153,"height":78,"title":"ADCD with variants",
    "data":{"values":[
     {"k":"Cont|WA1","g":"Cont","a":"a2","v":3500},{"k":"Cont|Alpha","g":"Cont","a":"a2","v":1900},{"k":"Cont|Delta","g":"Cont","a":"a2","v":1900},{"k":"Cont|Beta","g":"Cont","a":"a2","v":1500},
     {"k":"Cont|WA1","g":"Cont","a":"a1","v":3300},{"k":"Cont|Alpha","g":"Cont","a":"a1","v":1800},{"k":"Cont|Delta","g":"Cont","a":"a1","v":2000},{"k":"Cont|Beta","g":"Cont","a":"a1","v":1400},
     {"k":"SL|WA1","g":"SL","a":"a1","v":12000},{"k":"SL|Alpha","g":"SL","a":"a1","v":4000},{"k":"SL|Delta","g":"SL","a":"a1","v":8000},{"k":"SL|Beta","g":"SL","a":"a1","v":1800},
     {"k":"SL|WA1","g":"SL","a":"a2","v":28000},{"k":"SL|Alpha","g":"SL","a":"a2","v":5000},{"k":"SL|Delta","g":"SL","a":"a2","v":15000},{"k":"SL|Beta","g":"SL","a":"a2","v":2000},
     {"k":"SL|WA1","g":"SL","a":"a3","v":22000},{"k":"SL|Alpha","g":"SL","a":"a3","v":3500},{"k":"SL|Delta","g":"SL","a":"a3","v":20000},{"k":"SL|Beta","g":"SL","a":"a3","v":1500},
     {"k":"SL|WA1","g":"SL","a":"a4","v":3500},{"k":"SL|Alpha","g":"SL","a":"a4","v":2000},{"k":"SL|Delta","g":"SL","a":"a4","v":3000},{"k":"SL|Beta","g":"SL","a":"a4","v":1300},
     {"k":"SL|WA1","g":"SL","a":"a5","v":4000},{"k":"SL|Alpha","g":"SL","a":"a5","v":4500},{"k":"SL|Delta","g":"SL","a":"a5","v":12000},{"k":"SL|Beta","g":"SL","a":"a5","v":1700},
     {"k":"BL|WA1","g":"BL","a":"a1","v":60000},{"k":"BL|Alpha","g":"BL","a":"a1","v":11000},{"k":"BL|Delta","g":"BL","a":"a1","v":20000},{"k":"BL|Beta","g":"BL","a":"a1","v":1500},
     {"k":"BL|WA1","g":"BL","a":"a2","v":30000},{"k":"BL|Alpha","g":"BL","a":"a2","v":6000},{"k":"BL|Delta","g":"BL","a":"a2","v":15000},{"k":"BL|Beta","g":"BL","a":"a2","v":1300},
     {"k":"BL|WA1","g":"BL","a":"a3","v":12000},{"k":"BL|Alpha","g":"BL","a":"a3","v":5000},{"k":"BL|Delta","g":"BL","a":"a3","v":5000},{"k":"BL|Beta","g":"BL","a":"a3","v":1200},
     {"k":"BL|WA1","g":"BL","a":"a4","v":25000},{"k":"BL|Alpha","g":"BL","a":"a4","v":3000},{"k":"BL|Delta","g":"BL","a":"a4","v":3500},{"k":"BL|Beta","g":"BL","a":"a4","v":1100},
     {"k":"BL|WA1","g":"BL","a":"a5","v":4000},{"k":"BL|Alpha","g":"BL","a":"a5","v":2000},{"k":"BL|Delta","g":"BL","a":"a5","v":2000},{"k":"BL|Beta","g":"BL","a":"a5","v":1100},
     {"k":"IM|WA1","g":"IM","a":"a1","v":5000},{"k":"IM|Alpha","g":"IM","a":"a1","v":2000},{"k":"IM|Delta","g":"IM","a":"a1","v":3000},{"k":"IM|Beta","g":"IM","a":"a1","v":1300},
     {"k":"IM|WA1","g":"IM","a":"a2","v":100000},{"k":"IM|Alpha","g":"IM","a":"a2","v":100000},{"k":"IM|Delta","g":"IM","a":"a2","v":90000},{"k":"IM|Beta","g":"IM","a":"a2","v":1400},
     {"k":"IM|WA1","g":"IM","a":"a3","v":80000},{"k":"IM|Alpha","g":"IM","a":"a3","v":100000},{"k":"IM|Delta","g":"IM","a":"a3","v":12000},{"k":"IM|Beta","g":"IM","a":"a3","v":1500},
     {"k":"IM|WA1","g":"IM","a":"a4","v":130000},{"k":"IM|Alpha","g":"IM","a":"a4","v":30000},{"k":"IM|Delta","g":"IM","a":"a4","v":100000},{"k":"IM|Beta","g":"IM","a":"a4","v":2500},
     {"k":"IM|WA1","g":"IM","a":"a5","v":60000},{"k":"IM|Alpha","g":"IM","a":"a5","v":8000},{"k":"IM|Delta","g":"IM","a":"a5","v":30000},{"k":"IM|Beta","g":"IM","a":"a5","v":1300},
     {"k":"IM|WA1","g":"IM","a":"a6","v":50000},{"k":"IM|Alpha","g":"IM","a":"a6","v":100000},{"k":"IM|Delta","g":"IM","a":"a6","v":80000},{"k":"IM|Beta","g":"IM","a":"a6","v":1400}]},
    "layer":[
     {"data":{"values":[{"ref":3500}]},"mark":{"type":"rule","strokeDash":[2,2],"color":"#444","strokeWidth":0.7},"encoding":{"y":{"field":"ref","type":"quantitative"}}},
     {"mark":{"type":"line","color":"#777","strokeWidth":0.7},"encoding":{"x":{"field":"k","type":"nominal"},"y":{"field":"v","type":"quantitative"},"detail":[{"field":"g"},{"field":"a"}]}},
     {"mark":{"type":"point","filled":true,"size":24,"stroke":"#222","strokeWidth":0.5,"opacity":1},
      "encoding":{"x":{"field":"k","type":"nominal","scale":{"type":"point","domain":["Cont|WA1","Cont|Alpha","Cont|Delta","Cont|Beta","s1","SL|WA1","SL|Alpha","SL|Delta","SL|Beta","s2","BL|WA1","BL|Alpha","BL|Delta","BL|Beta","s3","IM|WA1","IM|Alpha","IM|Delta","IM|Beta"],"padding":0.5},"axis":{"values":["Cont|WA1","Cont|Alpha","Cont|Delta","Cont|Beta","SL|WA1","SL|Alpha","SL|Delta","SL|Beta","BL|WA1","BL|Alpha","BL|Delta","BL|Beta","IM|WA1","IM|Alpha","IM|Delta","IM|Beta"],"labelExpr":"split(datum.value,'|')[1]","labelAngle":-45,"labelFontSize":7,"title":null}},
       "y":{"field":"v","type":"quantitative","scale":{"type":"log","domain":[1000,1000000]},"axis":{"values":[1000,10000,100000,1000000],"labelExpr":"'10' + ['⁰','¹','²','³','⁴','⁵','⁶'][round(log(datum.value)/LN10)]","title":"RBD-specific ADCD (MFI)"}},
       "color":{"field":"g","type":"nominal","scale":{"domain":["SL","BL","IM","Cont"],"range":["#2C86E3","#F28E2B","#E8151B","#9A9A9A"]},"legend":null},
       "shape":{"field":"a","type":"nominal","scale":{"domain":["a1","a2","a3","a4","a5","a6"],"range":["circle","square","triangle-up","triangle-down","diamond","M-0.9,0L-0.45,-0.8L0.45,-0.8L0.9,0L0.45,0.8L-0.45,0.8Z"]},"legend":null}}},
     {"data":{"values":[{"x1":"IM|WA1","x2":"IM|Beta","y":750000},{"x1":"IM|WA1","x2":"IM|Delta","y":320000}]},"mark":{"type":"rule","color":"#444","strokeWidth":0.8},"encoding":{"x":{"field":"x1","type":"nominal"},"x2":{"field":"x2"},"y":{"field":"y","type":"quantitative"}}},
     {"data":{"values":[{"x":"IM|WA1","y1":750000,"y2":550000},{"x":"IM|Beta","y1":750000,"y2":16000},{"x":"IM|WA1","y1":320000,"y2":230000},{"x":"IM|Delta","y1":320000,"y2":160000}]},"mark":{"type":"rule","color":"#444","strokeWidth":0.8},"encoding":{"x":{"field":"x","type":"nominal"},"y":{"field":"y1","type":"quantitative"},"y2":{"field":"y2"}}},
     {"data":{"values":[{"x":"IM|Alpha","y":950000,"s":"*"},{"x":"IM|WA1","y":420000,"s":"*"}]},"mark":{"type":"text","fontSize":7,"color":"#333","dx":4},"encoding":{"x":{"field":"x","type":"nominal"},"y":{"field":"y","type":"quantitative"},"text":{"field":"s"}}}
    ]}
  ]},
  {"bounds":"flush","spacing":0,"resolve":{"scale":{"xOffset":"independent"}},"hconcat":[
   {"width":47,"height":1,"title":{"text":"M","anchor":"start","frame":"group","fontSize":12.5,"fontWeight":"bold","offset":10,"dx":6},"data":{"values":[]},"mark":{"type":"point","opacity":0},"encoding":{}},
   {"width":170,"height":85,"title":"IFNγ⁺ CD4, Blood Week 5",
    "data":{"values":[
     {"p":"S1","g":"Cont","a":"a1","v":0.005},{"p":"S1","g":"Cont","a":"a2","v":0.005},{"p":"S1","g":"SL","a":"a1","v":0.005},{"p":"S1","g":"SL","a":"a2","v":0.005},{"p":"S1","g":"SL","a":"a3","v":0.005},{"p":"S1","g":"SL","a":"a5","v":0.012},
     {"p":"S1","g":"BL","a":"a1","v":0.005},{"p":"S1","g":"BL","a":"a2","v":0.005},{"p":"S1","g":"BL","a":"a3","v":0.005},{"p":"S1","g":"BL","a":"a5","v":0.012},
     {"p":"S1","g":"IM","a":"a3","v":0.005},{"p":"S1","g":"IM","a":"a1","v":0.0075},{"p":"S1","g":"IM","a":"a2","v":0.022},{"p":"S1","g":"IM","a":"a5","v":0.052},{"p":"S1","g":"IM","a":"a4","v":0.055},
     {"p":"S2","g":"Cont","a":"a1","v":0.005},{"p":"S2","g":"Cont","a":"a2","v":0.005},{"p":"S2","g":"SL","a":"a1","v":0.005},{"p":"S2","g":"SL","a":"a2","v":0.005},{"p":"S2","g":"SL","a":"a3","v":0.005},{"p":"S2","g":"SL","a":"a4","v":0.009},
     {"p":"S2","g":"BL","a":"a1","v":0.005},{"p":"S2","g":"BL","a":"a2","v":0.005},{"p":"S2","g":"BL","a":"a3","v":0.005},{"p":"S2","g":"BL","a":"a5","v":0.005},
     {"p":"S2","g":"IM","a":"a3","v":0.005},{"p":"S2","g":"IM","a":"a2","v":0.005},{"p":"S2","g":"IM","a":"a5","v":0.028},{"p":"S2","g":"IM","a":"a4","v":0.052},
     {"p":"N","g":"Cont","a":"a1","v":0.005},{"p":"N","g":"Cont","a":"a2","v":0.005},{"p":"N","g":"SL","a":"a1","v":0.005},{"p":"N","g":"SL","a":"a2","v":0.005},{"p":"N","g":"SL","a":"a3","v":0.005},{"p":"N","g":"SL","a":"a4","v":0.032},
     {"p":"N","g":"BL","a":"a1","v":0.005},{"p":"N","g":"BL","a":"a2","v":0.006},{"p":"N","g":"BL","a":"a3","v":0.008},{"p":"N","g":"BL","a":"a5","v":0.01},
     {"p":"N","g":"IM","a":"a3","v":0.005},{"p":"N","g":"IM","a":"a1","v":0.024},{"p":"N","g":"IM","a":"a2","v":0.035},{"p":"N","g":"IM","a":"a4","v":0.05},{"p":"N","g":"IM","a":"a5","v":0.07},
     {"p":"Total","g":"Cont","a":"a1","v":0.005},{"p":"Total","g":"Cont","a":"a2","v":0.005},{"p":"Total","g":"SL","a":"a2","v":0.005},{"p":"Total","g":"SL","a":"a1","v":0.005},{"p":"Total","g":"SL","a":"a5","v":0.012},{"p":"Total","g":"SL","a":"a4","v":0.04},
     {"p":"Total","g":"BL","a":"a1","v":0.005},{"p":"Total","g":"BL","a":"a2","v":0.006},{"p":"Total","g":"BL","a":"a3","v":0.008},{"p":"Total","g":"BL","a":"a5","v":0.01},
     {"p":"Total","g":"IM","a":"a3","v":0.005},{"p":"Total","g":"IM","a":"a2","v":0.055},{"p":"Total","g":"IM","a":"a1","v":0.06},{"p":"Total","g":"IM","a":"a5","v":0.13},{"p":"Total","g":"IM","a":"a4","v":0.15}]},
    "layer":[
     {"transform":[{"aggregate":[{"op":"q1","field":"v","as":"q1"},{"op":"q3","field":"v","as":"q3"},{"op":"median","field":"v","as":"md"},{"op":"min","field":"v","as":"lo"},{"op":"max","field":"v","as":"hi"}],"groupby":["p","g"]}],
      "encoding":{"x":{"field":"p","type":"nominal"},"xOffset":{"field":"g","type":"nominal"}},
      "layer":[
       {"mark":{"type":"rule","color":"#999","strokeWidth":0.8},"encoding":{"y":{"field":"lo","type":"quantitative"},"y2":{"field":"hi"}}},
       {"mark":{"type":"bar","fill":"white","stroke":"#999","strokeWidth":0.9,"width":{"band":0.85}},"encoding":{"y":{"field":"q1","type":"quantitative"},"y2":{"field":"q3"}}},
       {"mark":{"type":"tick","color":"#999","thickness":0.9,"size":8},"encoding":{"y":{"field":"md","type":"quantitative"}}}]},
     {"mark":{"type":"point","filled":true,"size":26,"stroke":"#222","strokeWidth":0.5,"opacity":1},
      "encoding":{"x":{"field":"p","type":"nominal","scale":{"domain":["S1","S2","N","Total"],"paddingInner":0.25,"paddingOuter":0.15},"axis":{"title":"Peptide pool","labelAngle":0,"labelFontSize":8,"titleFontSize":8}},
       "xOffset":{"field":"g","type":"nominal","scale":{"domain":["Cont","SL","BL","IM"],"paddingInner":0.15}},
       "y":{"field":"v","type":"quantitative","scale":{"type":"log","domain":[0.001,1]},"axis":{"values":[0.001,0.01,0.1,1],"format":"~g","title":"% IFNγ⁺ CD4⁺ T cells"}},
       "color":{"field":"g","type":"nominal","scale":{"domain":["SL","BL","IM","Cont"],"range":["#2C86E3","#F28E2B","#E8151B","#9A9A9A"]},"legend":null},
       "shape":{"field":"a","type":"nominal","scale":{"domain":["a1","a2","a3","a4","a5","a6"],"range":["circle","square","triangle-up","triangle-down","diamond","M-0.9,0L-0.45,-0.8L0.45,-0.8L0.9,0L0.45,0.8L-0.45,0.8Z"]},"legend":null}}}
    ]},
   {"width":61,"height":1,"title":{"text":"N","anchor":"start","frame":"group","fontSize":12.5,"fontWeight":"bold","offset":10,"dx":10},"data":{"values":[]},"mark":{"type":"point","opacity":0},"encoding":{}},
   {"width":165,"height":85,"title":"IFNγ⁺ CD8, Blood Week 5",
    "data":{"values":[
     {"p":"S1","g":"Cont","a":"a1","v":0.005},{"p":"S1","g":"Cont","a":"a2","v":0.005},{"p":"S1","g":"SL","a":"a1","v":0.005},{"p":"S1","g":"SL","a":"a2","v":0.005},{"p":"S1","g":"SL","a":"a3","v":0.005},{"p":"S1","g":"SL","a":"a4","v":0.3},
     {"p":"S1","g":"BL","a":"a1","v":0.005},{"p":"S1","g":"BL","a":"a2","v":0.005},{"p":"S1","g":"BL","a":"a3","v":0.005},{"p":"S1","g":"BL","a":"a5","v":0.005},
     {"p":"S1","g":"IM","a":"a3","v":0.005},{"p":"S1","g":"IM","a":"a4","v":0.02},{"p":"S1","g":"IM","a":"a1","v":0.16},{"p":"S1","g":"IM","a":"a2","v":0.17},
     {"p":"S2","g":"Cont","a":"a1","v":0.005},{"p":"S2","g":"Cont","a":"a2","v":0.005},{"p":"S2","g":"SL","a":"a1","v":0.005},{"p":"S2","g":"SL","a":"a2","v":0.005},{"p":"S2","g":"SL","a":"a3","v":0.005},{"p":"S2","g":"SL","a":"a4","v":0.035},
     {"p":"S2","g":"BL","a":"a1","v":0.005},{"p":"S2","g":"BL","a":"a2","v":0.005},{"p":"S2","g":"BL","a":"a3","v":0.005},{"p":"S2","g":"BL","a":"a5","v":0.005},
     {"p":"S2","g":"IM","a":"a3","v":0.005},{"p":"S2","g":"IM","a":"a4","v":0.1},{"p":"S2","g":"IM","a":"a2","v":0.11},{"p":"S2","g":"IM","a":"a1","v":0.15},
     {"p":"N","g":"Cont","a":"a1","v":0.005},{"p":"N","g":"Cont","a":"a2","v":0.005},{"p":"N","g":"SL","a":"a2","v":0.005},{"p":"N","g":"SL","a":"a5","v":0.032},{"p":"N","g":"SL","a":"a4","v":0.065},{"p":"N","g":"SL","a":"a3","v":0.1},
     {"p":"N","g":"BL","a":"a1","v":0.005},{"p":"N","g":"BL","a":"a2","v":0.005},{"p":"N","g":"BL","a":"a5","v":0.005},{"p":"N","g":"BL","a":"a3","v":0.023},
     {"p":"N","g":"IM","a":"a3","v":0.005},{"p":"N","g":"IM","a":"a4","v":0.1},{"p":"N","g":"IM","a":"a1","v":0.45},{"p":"N","g":"IM","a":"a2","v":0.65},
     {"p":"Total","g":"Cont","a":"a1","v":0.005},{"p":"Total","g":"Cont","a":"a2","v":0.005},{"p":"Total","g":"SL","a":"a2","v":0.005},{"p":"Total","g":"SL","a":"a5","v":0.032},{"p":"Total","g":"SL","a":"a3","v":0.1},{"p":"Total","g":"SL","a":"a4","v":0.4},
     {"p":"Total","g":"BL","a":"a1","v":0.005},{"p":"Total","g":"BL","a":"a2","v":0.005},{"p":"Total","g":"BL","a":"a5","v":0.005},{"p":"Total","g":"BL","a":"a3","v":0.023},
     {"p":"Total","g":"IM","a":"a3","v":0.005},{"p":"Total","g":"IM","a":"a4","v":0.2},{"p":"Total","g":"IM","a":"a1","v":0.75},{"p":"Total","g":"IM","a":"a2","v":0.9}]},
    "layer":[
     {"transform":[{"aggregate":[{"op":"q1","field":"v","as":"q1"},{"op":"q3","field":"v","as":"q3"},{"op":"median","field":"v","as":"md"},{"op":"min","field":"v","as":"lo"},{"op":"max","field":"v","as":"hi"}],"groupby":["p","g"]}],
      "encoding":{"x":{"field":"p","type":"nominal"},"xOffset":{"field":"g","type":"nominal"}},
      "layer":[
       {"mark":{"type":"rule","color":"#999","strokeWidth":0.8},"encoding":{"y":{"field":"lo","type":"quantitative"},"y2":{"field":"hi"}}},
       {"mark":{"type":"bar","fill":"white","stroke":"#999","strokeWidth":0.9,"width":{"band":0.85}},"encoding":{"y":{"field":"q1","type":"quantitative"},"y2":{"field":"q3"}}},
       {"mark":{"type":"tick","color":"#999","thickness":0.9,"size":8},"encoding":{"y":{"field":"md","type":"quantitative"}}}]},
     {"mark":{"type":"point","filled":true,"size":26,"stroke":"#222","strokeWidth":0.5,"opacity":1},
      "encoding":{"x":{"field":"p","type":"nominal","scale":{"domain":["S1","S2","N","Total"],"paddingInner":0.25,"paddingOuter":0.15},"axis":{"title":"Peptide Pool","labelAngle":0,"labelFontSize":8,"titleFontSize":8}},
       "xOffset":{"field":"g","type":"nominal","scale":{"domain":["Cont","SL","BL","IM"],"paddingInner":0.15}},
       "y":{"field":"v","type":"quantitative","scale":{"type":"log","domain":[0.001,1]},"axis":{"values":[0.001,0.01,0.1,1],"format":"~g","title":"% IFNγ⁺ CD8⁺ T cells"}},
       "color":{"field":"g","type":"nominal","scale":{"domain":["SL","BL","IM","Cont"],"range":["#2C86E3","#F28E2B","#E8151B","#9A9A9A"]},"legend":null},
       "shape":{"field":"a","type":"nominal","scale":{"domain":["a1","a2","a3","a4","a5","a6"],"range":["circle","square","triangle-up","triangle-down","diamond","M-0.9,0L-0.45,-0.8L0.45,-0.8L0.9,0L0.45,0.8L-0.45,0.8Z"]},"legend":null}}}
    ]}
  ]}
 ]},
 {"bounds":"flush","spacing":20,"resolve":{"scale":{"color":"independent","xOffset":"independent"}},"vconcat":[
  {"width":1,"height":36,"title":{"text":"L","anchor":"start","frame":"group","fontSize":12.5,"fontWeight":"bold","offset":1,"dx":-26},"data":{"values":[]},"mark":{"type":"point","opacity":0},"encoding":{}},
  {"width":157,"height":268,"title":{"text":"Correlations","fontSize":9.5,"offset":20},
   "data":{"values":[
    {"r":"WA-1/2020","c":"WA-1/2020","v":1.00,"s":""},{"r":"WA-1/2020","c":"Delta","v":0.74,"s":"**"},{"r":"WA-1/2020","c":"ADCD","v":0.85,"s":"***"},{"r":"WA-1/2020","c":"ADCP","v":0.73,"s":"**"},{"r":"WA-1/2020","c":"ADNP","v":0.79,"s":"**"},{"r":"WA-1/2020","c":"ADNKA","v":0.63,"s":"*"},{"r":"WA-1/2020","c":"Pf score","v":0.90,"s":"***"},
    {"r":"Delta","c":"WA-1/2020","v":0.74,"s":"**"},{"r":"Delta","c":"Delta","v":1.00,"s":""},{"r":"Delta","c":"ADCD","v":0.73,"s":"**"},{"r":"Delta","c":"ADCP","v":0.58,"s":"*"},{"r":"Delta","c":"ADNP","v":0.73,"s":"**"},{"r":"Delta","c":"ADNKA","v":0.59,"s":"*"},{"r":"Delta","c":"Pf score","v":0.79,"s":"**"},
    {"r":"ADCD","c":"WA-1/2020","v":0.85,"s":"***"},{"r":"ADCD","c":"Delta","v":0.73,"s":"**"},{"r":"ADCD","c":"ADCD","v":1.00,"s":""},{"r":"ADCD","c":"ADCP","v":0.82,"s":"***"},{"r":"ADCD","c":"ADNP","v":0.96,"s":"***"},{"r":"ADCD","c":"ADNKA","v":0.52,"s":"*"},{"r":"ADCD","c":"Pf score","v":0.97,"s":"***"},
    {"r":"ADCP","c":"WA-1/2020","v":0.73,"s":"**"},{"r":"ADCP","c":"Delta","v":0.58,"s":"*"},{"r":"ADCP","c":"ADCD","v":0.82,"s":"***"},{"r":"ADCP","c":"ADCP","v":1.00,"s":""},{"r":"ADCP","c":"ADNP","v":0.76,"s":"**"},{"r":"ADCP","c":"ADNKA","v":0.43,"s":""},{"r":"ADCP","c":"Pf score","v":0.86,"s":"***"},
    {"r":"ADNP","c":"WA-1/2020","v":0.79,"s":"**"},{"r":"ADNP","c":"Delta","v":0.73,"s":"**"},{"r":"ADNP","c":"ADCD","v":0.96,"s":"***"},{"r":"ADNP","c":"ADCP","v":0.76,"s":"**"},{"r":"ADNP","c":"ADNP","v":1.00,"s":""},{"r":"ADNP","c":"ADNKA","v":0.62,"s":"*"},{"r":"ADNP","c":"Pf score","v":0.93,"s":"***"},
    {"r":"ADNKA","c":"WA-1/2020","v":0.63,"s":"*"},{"r":"ADNKA","c":"Delta","v":0.59,"s":"*"},{"r":"ADNKA","c":"ADCD","v":0.52,"s":"*"},{"r":"ADNKA","c":"ADCP","v":0.43,"s":""},{"r":"ADNKA","c":"ADNP","v":0.62,"s":"*"},{"r":"ADNKA","c":"ADNKA","v":1.00,"s":""},{"r":"ADNKA","c":"Pf score","v":0.57,"s":"*"},
    {"r":"Pf score","c":"WA-1/2020","v":0.90,"s":"***"},{"r":"Pf score","c":"Delta","v":0.79,"s":"**"},{"r":"Pf score","c":"ADCD","v":0.97,"s":"***"},{"r":"Pf score","c":"ADCP","v":0.86,"s":"***"},{"r":"Pf score","c":"ADNP","v":0.93,"s":"***"},{"r":"Pf score","c":"ADNKA","v":0.57,"s":"*"},{"r":"Pf score","c":"Pf score","v":1.00,"s":""},
    {"r":"IgG","c":"WA-1/2020","v":0.81,"s":"***"},{"r":"IgG","c":"Delta","v":0.72,"s":"**"},{"r":"IgG","c":"ADCD","v":0.96,"s":"***"},{"r":"IgG","c":"ADCP","v":0.84,"s":"***"},{"r":"IgG","c":"ADNP","v":0.98,"s":"***"},{"r":"IgG","c":"ADNKA","v":0.58,"s":"*"},{"r":"IgG","c":"Pf score","v":0.95,"s":"***"},
    {"r":"IgG1","c":"WA-1/2020","v":0.78,"s":"**"},{"r":"IgG1","c":"Delta","v":0.60,"s":"*"},{"r":"IgG1","c":"ADCD","v":0.93,"s":"***"},{"r":"IgG1","c":"ADCP","v":0.83,"s":"***"},{"r":"IgG1","c":"ADNP","v":0.90,"s":"***"},{"r":"IgG1","c":"ADNKA","v":0.38,"s":""},{"r":"IgG1","c":"Pf score","v":0.91,"s":"***"},
    {"r":"IgG2","c":"WA-1/2020","v":0.80,"s":"***"},{"r":"IgG2","c":"Delta","v":0.63,"s":"*"},{"r":"IgG2","c":"ADCD","v":0.93,"s":"***"},{"r":"IgG2","c":"ADCP","v":0.82,"s":"***"},{"r":"IgG2","c":"ADNP","v":0.89,"s":"***"},{"r":"IgG2","c":"ADNKA","v":0.38,"s":""},{"r":"IgG2","c":"Pf score","v":0.92,"s":"***"},
    {"r":"IgG3","c":"WA-1/2020","v":0.78,"s":"**"},{"r":"IgG3","c":"Delta","v":0.60,"s":"*"},{"r":"IgG3","c":"ADCD","v":0.93,"s":"***"},{"r":"IgG3","c":"ADCP","v":0.83,"s":"***"},{"r":"IgG3","c":"ADNP","v":0.90,"s":"***"},{"r":"IgG3","c":"ADNKA","v":0.38,"s":""},{"r":"IgG3","c":"Pf score","v":0.91,"s":"***"},
    {"r":"rhFcgR3A","c":"WA-1/2020","v":0.69,"s":"**"},{"r":"rhFcgR3A","c":"Delta","v":0.67,"s":"**"},{"r":"rhFcgR3A","c":"ADCD","v":0.85,"s":"***"},{"r":"rhFcgR3A","c":"ADCP","v":0.86,"s":"***"},{"r":"rhFcgR3A","c":"ADNP","v":0.73,"s":"**"},{"r":"rhFcgR3A","c":"ADNKA","v":0.27,"s":""},{"r":"rhFcgR3A","c":"Pf score","v":0.86,"s":"***"}]},
   "resolve":{"axis":{"x":"independent","y":"independent"}},
   "layer":[
    {"mark":{"type":"rect","stroke":"#111","strokeWidth":0.8},
     "encoding":{"x":{"field":"c","type":"nominal","scale":{"domain":["WA-1/2020","Delta","ADCD","ADCP","ADNP","ADNKA","Pf score"],"paddingInner":0,"paddingOuter":0},"axis":{"orient":"top","title":null,"labelAngle":-90,"labelAlign":"left","labelBaseline":"middle","labelFontSize":9.5,"domain":false,"ticks":false,"labelPadding":3}},
      "y":{"field":"r","type":"nominal","scale":{"domain":["WA-1/2020","Delta","ADCD","ADCP","ADNP","ADNKA","Pf score","IgG","IgG1","IgG2","IgG3","rhFcgR3A"],"paddingInner":0,"paddingOuter":0},"axis":{"orient":"left","title":null,"labelFontSize":9.5,"domain":false,"ticks":false,"labelPadding":2}},
      "color":{"field":"v","type":"quantitative","scale":{"domain":[-1,1],"scheme":"magma"},"legend":{"orient":"none","legendX":163,"legendY":-19,"title":null,"direction":"vertical","gradientLength":67,"gradientThickness":7,"values":[-1,-0.5,0,0.5,1],"labelFontSize":7,"labelExpr":"datum.value==0?'0':format(datum.value,'.1f')","gradientStrokeColor":"#111","gradientStrokeWidth":0.8}}}},
    {"mark":{"type":"text","fontSize":8.3,"dy":2,"color":"#111"},
     "encoding":{"x":{"field":"c","type":"nominal","axis":{"orient":"top","title":null,"labelAngle":-90,"labelAlign":"left","labelBaseline":"middle","labelFontSize":5.5,"domain":false,"ticks":false,"labelPadding":3,"labelOffset":-8,"labelExpr":"datum.value=='WA-1/2020'||datum.value=='Delta'?'Live-virus neuts':''"}},
      "y":{"field":"r","type":"nominal","axis":{"orient":"left","title":null,"labelFontSize":5.5,"domain":false,"ticks":false,"labelPadding":2,"labelOffset":-9,"labelExpr":"datum.value=='WA-1/2020'||datum.value=='Delta'?'Live-virus neuts':''"}},
      "text":{"field":"v","type":"quantitative","format":".2f"}}},
    {"mark":{"type":"text","fontSize":7,"dy":-6,"color":"#1b1b8f"},
     "encoding":{"x":{"field":"c","type":"nominal","axis":{"orient":"bottom","labels":false,"ticks":false,"domain":false,"title":"*p < 0.05, **p < 0.01, and ***p < 0.001","titleFontSize":5.5,"titleFontWeight":"normal","titleColor":"#333","titlePadding":6,"titleX":130}},"y":{"field":"r","type":"nominal","axis":null},"text":{"field":"s"}}}
   ]}
 ]}
]}
]}
